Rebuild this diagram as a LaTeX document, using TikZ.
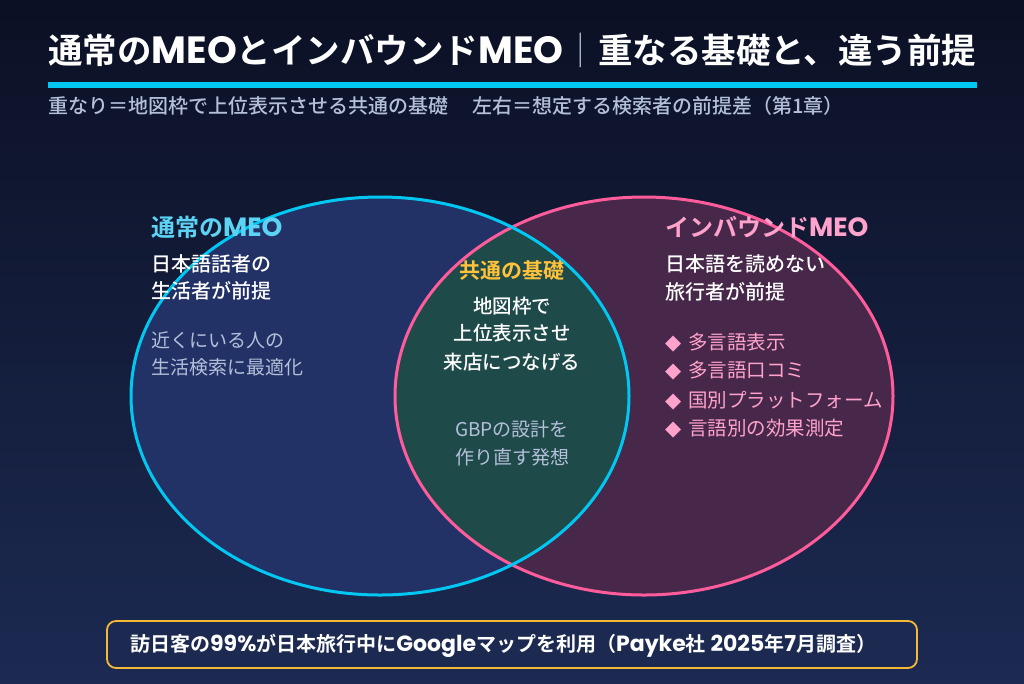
\documentclass[tikz,border=0pt]{standalone}
\usepackage{fontspec}
\setmainfont{Noto Sans CJK JP}
\newfontfamily\jpb{Noto Sans CJK JP Bold}
\newfontfamily\jpm{Noto Sans CJK JP Medium}
\newfontfamily\jpl{Noto Sans CJK JP Light}
\newfontfamily\latb{Poppins Bold}[Scale=1.1]
\newfontfamily\dejavu{DejaVu Sans}
\newcommand{\lt}[1]{{\latb #1}}
\definecolor{bgtop}{HTML}{0B1024}
\definecolor{bgbot}{HTML}{1C2A52}
\definecolor{leftfill}{HTML}{233266}
\definecolor{rightfill}{HTML}{48284A}
\definecolor{midfill}{HTML}{1F4A4A}
\definecolor{cyanline}{HTML}{00C8F2}
\definecolor{pinkline}{HTML}{FF5C9C}
\definecolor{cyantext}{HTML}{5CD2F4}
\definecolor{pinktext}{HTML}{FFA2CC}
\definecolor{yellowtext}{HTML}{FFC23A}
\definecolor{subtext}{HTML}{B4C0DA}
\definecolor{boxline}{HTML}{F5B935}
\tikzset{
  every node/.style={inner sep=0pt},
  title/.style={anchor=base west, text=white, font=\jpb\fontsize{34.5}{36}\selectfont},
  subtitle/.style={anchor=base west, text=subtext, font=\jpm\fontsize{20}{22}\selectfont},
  sidehead/.style={anchor=base west, font=\jpb\fontsize{24}{26}\selectfont},
  bodyline/.style={text=white, font=\jpm\fontsize{20}{22}\selectfont},
  grayline/.style={text=subtext, font=\fontsize{19}{22}\selectfont},
  bulletline/.style={anchor=base west, text=pinktext, font=\fontsize{19.5}{22}\selectfont},
}
\newcommand{\dia}{{\dejavu\fontsize{21}{22}\selectfont ◆}\hspace{7pt}}
\begin{document}
\begin{tikzpicture}[x=1pt,y=-1pt]
\useasboundingbox (0,0) rectangle (1024,683);
\shade[top color=bgtop, bottom color=bgbot] (0,0) rectangle (1024,683);
% title
\node[title] (title) at (48,63) {通常の\lt{MEO}とインバウンド\lt{MEO}{\color{subtext}\jpl ｜}重なる基礎と、違う前提};
\fill[cyanline] (48,82) rectangle (977,87.5);
\node[subtitle] (sub) at (48,113.5) {重なり＝地図枠で上位表示させる共通の基礎\hspace{24pt}左右＝想定する検索者の前提差（第1章）};
% venn
\fill[leftfill] (380,396) ellipse [x radius=249, y radius=199];
\fill[rightfill] (644,396) ellipse [x radius=249, y radius=199];
\begin{scope}
\clip (380,396) ellipse [x radius=249, y radius=199];
\fill[midfill] (644,396) ellipse [x radius=249, y radius=199];
\end{scope}
\draw[pinkline, line width=3pt] (644,396) ellipse [x radius=249, y radius=199];
\draw[cyanline, line width=3pt] (380,396) ellipse [x radius=249, y radius=199];
% left texts
\node[sidehead, text=cyantext] (lh) at (151,236) {通常の\lt{MEO}};
\node[bodyline, anchor=base west] (lb1) at (151,271.5) {日本語話者の};
\node[bodyline, anchor=base west] (lb2) at (151,298.5) {生活者が前提};
\node[grayline, anchor=base west] (lg1) at (151,347) {近くにいる人の};
\node[grayline, anchor=base west] (lg2) at (151,374) {生活検索に最適化};
% center texts
\node[anchor=base, text=yellowtext, font=\jpb\fontsize{21}{24}\selectfont] (ch) at (512,278) {共通の基礎};
\node[bodyline, anchor=base, font=\jpm\fontsize{19.5}{22}\selectfont] (cb1) at (512,313.5) {地図枠で};
\node[bodyline, anchor=base, font=\jpm\fontsize{19.5}{22}\selectfont] (cb2) at (512,340.5) {上位表示させ};
\node[bodyline, anchor=base, font=\jpm\fontsize{19.5}{22}\selectfont] (cb3) at (512,369) {来店につなげる};
\node[grayline, anchor=base] (cg1) at (512,436.5) {GBPの設計を};
\node[grayline, anchor=base] (cg2) at (512,464) {作り直す発想};
% right texts
\node[sidehead, text=pinktext] (rh) at (665,236) {インバウンド\lt{MEO}};
\node[bodyline, anchor=base west] (rb1) at (665,271.5) {日本語を読めない};
\node[bodyline, anchor=base west] (rb2) at (665,299) {旅行者が前提};
\node[bulletline] (r1) at (665,349) {\dia 多言語表示};
\node[bulletline] (r2) at (665,377.5) {\dia 多言語口コミ};
\node[bulletline] (r3) at (665,407) {\dia 国別プラットフォーム};
\node[bulletline] (r4) at (665,435.5) {\dia 言語別の効果測定};
% bottom box
\draw[boxline, line width=1.8pt, rounded corners=9pt, fill=bgbot] (107,621) rectangle (917,668);
\node[anchor=base west, text=white, font=\jpb\fontsize{20}{22}\selectfont] (note) at (130,651) {訪日客の\lt{99\%}が日本旅行中に\lt{Google}マップを利用（\lt{Payke}社\lt{ 2025}年\lt{7}月調査）};
\end{tikzpicture}
\end{document}
